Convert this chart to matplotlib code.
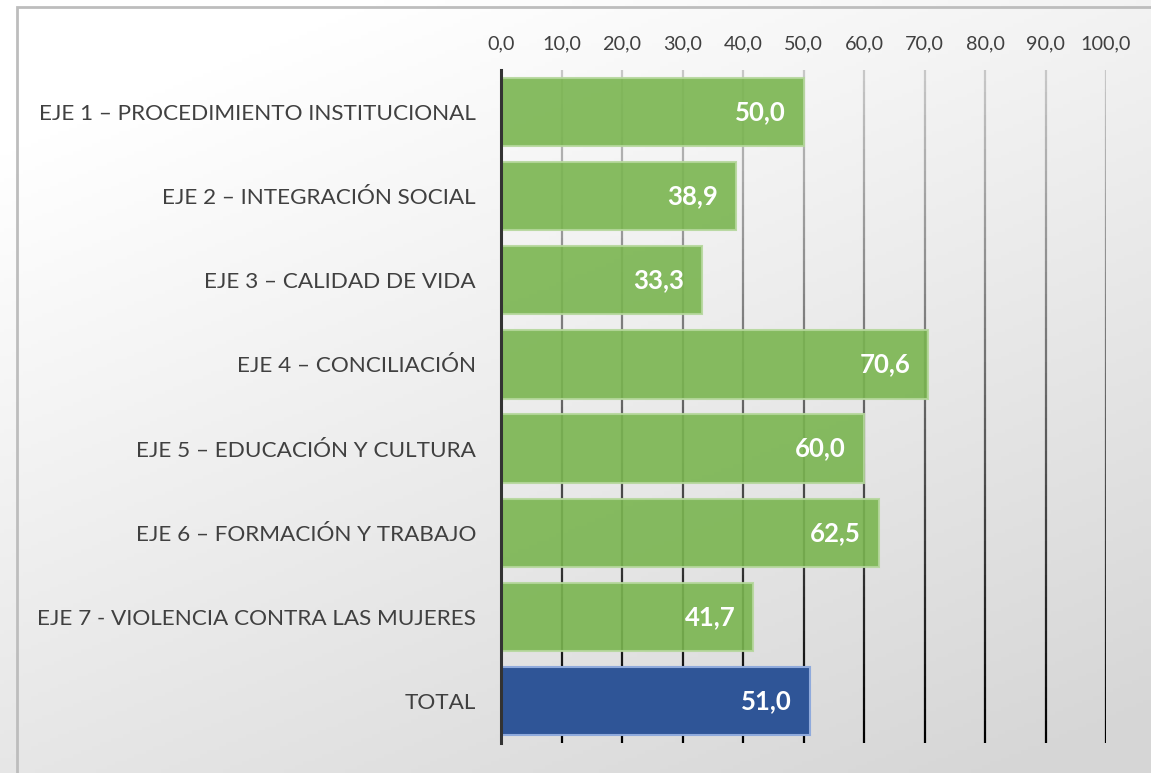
import matplotlib
matplotlib.use("Agg")
import matplotlib.pyplot as plt
import numpy as np
from matplotlib.collections import LineCollection
from matplotlib.patches import Rectangle

categories = [
    "EJE 1 – PROCEDIMIENTO INSTITUCIONAL",
    "EJE 2 – INTEGRACIÓN SOCIAL",
    "EJE 3 – CALIDAD DE VIDA",
    "EJE 4 – CONCILIACIÓN",
    "EJE 5 – EDUCACIÓN Y CULTURA",
    "EJE 6 – FORMACIÓN Y TRABAJO",
    "EJE 7 - VIOLENCIA CONTRA LAS MUJERES",
    "TOTAL",
]
values = [50.0, 38.9, 33.3, 70.6, 60.0, 62.5, 41.7, 51.0]
tick_values = [0, 10, 20, 30, 40, 50, 60, 70, 80, 90, 100]

GREEN = "#7ab550"
GREEN_EDGE = "#b5d79c"
BLUE = "#2f5597"
BLUE_EDGE = "#8faadc"
FONT = ["Lato", "DejaVu Sans"]

W, H = 1151, 773
fig = plt.figure(figsize=(W / 100, H / 100), dpi=100)

# background gradient
bg = fig.add_axes([0, 0, 1, 1])
bg.set_axis_off()
yy, xx = np.mgrid[0:1:200j, 0:1:300j]
t = np.clip(0.45 * xx + 0.75 * yy - 0.15, 0, 1)
val = 1.0 - 0.16 * t
img = np.dstack([val, val, val])
bg.imshow(img, extent=[0, 1, 0, 1], aspect="auto", origin="upper")
bg.set_xlim(0, 1)
bg.set_ylim(0, 1)
bg.add_patch(Rectangle((17 / W, -0.01), 1.0, 1 - 7 / H + 0.01, fill=False,
                       edgecolor="#bdbdbd", linewidth=2, transform=bg.transAxes))

ax = fig.add_axes([501 / W, 30 / H, 605 / W, 673 / H])
ax.patch.set_alpha(0)
n = len(categories)
pos = np.arange(n)
ax.set_xlim(0, 100)
ax.set_ylim(n - 0.5, -0.5)

# gradient gridlines
N = 60
ys = np.linspace(-0.5, n - 0.5, N + 1)
for xv in tick_values[1:]:
    segs = [[(xv, ys[i]), (xv, ys[i + 1])] for i in range(N)]
    c = np.linspace(0.78, 0.0, N)
    cols = [(v, v, v, 1) for v in c]
    ax.add_collection(LineCollection(segs, colors=cols, linewidths=1.6, zorder=1))

bar_colors = [GREEN] * (n - 1) + [BLUE]
edge_colors = [GREEN_EDGE] * (n - 1) + [BLUE_EDGE]
bars = ax.barh(pos, values, height=0.81, color=bar_colors, edgecolor=edge_colors,
               linewidth=1.5, alpha=0.9, zorder=2)
bars[-1].set_alpha(1.0)

for p, v in zip(pos, values):
    ax.annotate(f"{v:.1f}".replace(".", ","), xy=(v, p), xytext=(-18, 0),
                textcoords="offset pixels",
                ha="right", va="center", color="white", fontsize=18.5,
                fontweight="bold", family=FONT, zorder=3)

ax.xaxis.tick_top()
ax.set_xticks(tick_values)
ax.set_xticklabels([f"{v:.1f}".replace(".", ",") for v in tick_values],
                   family=FONT, fontsize=14.3, color="#404040")
ax.set_yticks(pos)
ax.set_yticklabels(categories, family=FONT, fontsize=16.2, color="#404040")
ax.tick_params(axis="x", length=0, pad=13)
ax.tick_params(axis="y", length=0, pad=18)
for s in ["top", "right", "bottom"]:
    ax.spines[s].set_visible(False)
ax.spines["left"].set_color("#333333")
ax.spines["left"].set_linewidth(2.2)
ax.spines["left"].set_zorder(4)

fig.savefig("out.png", dpi=100)
